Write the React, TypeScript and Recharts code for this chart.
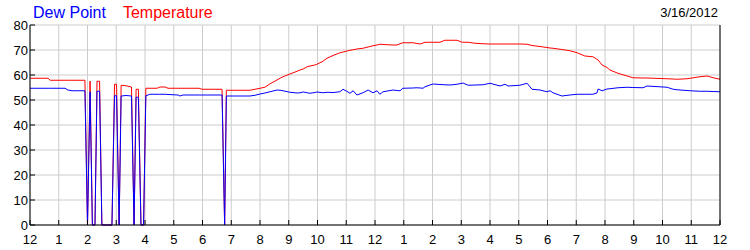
import { LineChart, Line, XAxis, YAxis, CartesianGrid, Legend } from 'recharts';

// hours since midnight
const hours = [
  0, 0.63, 0.7, 1.22, 1.32, 1.46, 1.91, 2.0, 2.09, 2.17, 2.26, 2.33, 2.42, 2.5, 2.85, 2.94,
  3.01, 3.1, 3.17, 3.34, 3.53, 3.62, 3.69, 3.77, 3.86, 3.95, 4.03, 4.17, 4.42, 4.52, 4.7, 4.8,
  5.15, 5.22, 5.32, 5.88, 5.98, 6.68, 6.77, 6.83, 7.65, 7.83, 8.0, 8.17, 8.35, 8.59, 8.7, 8.8,
  9.04, 9.29, 9.39, 9.5, 9.64, 9.74, 9.91, 9.98, 10.19, 10.33, 10.54, 10.78, 10.89, 11.03, 11.13, 11.24,
  11.37, 11.58, 11.76, 11.93, 12.07, 12.17, 12.28, 12.63, 12.77, 12.87, 12.97, 13.32, 13.46, 13.57, 13.67, 13.74,
  13.91, 14.02, 14.26, 14.43, 14.61, 14.85, 15.03, 15.06, 15.24, 15.48, 15.76, 16.0, 16.35, 16.52, 16.63, 17.04,
  17.29, 17.46, 17.74, 17.98, 18.09, 18.19, 18.5, 18.78, 19.03, 19.3, 19.58, 19.72, 19.76, 19.9, 20.07, 20.17,
  20.45, 20.77, 20.97, 21.32, 21.46, 22.16, 22.37, 22.5, 22.85, 22.96, 23.3, 23.55, 23.76, 24.0,
];

const temperature = [
  58.7, 58.7, 57.9, 57.9, 57.9, 57.9, 57.9, 0, 57.6, 0, 0, 57.5, 57.5, 0, 0, 56.3,
  56.3, 0, 55.9, 55.7, 55.2, 0, 54.3, 54.3, 0, 0, 54.7, 54.7, 54.7, 55.2, 55.2, 54.7,
  54.7, 54.7, 54.7, 54.7, 54.3, 54.3, 0, 53.9, 53.9, 54.3, 54.7, 55.1, 56.5, 58.0, 58.7, 59.3,
  60.4, 61.5, 62.0, 62.4, 63.3, 63.6, 64.0, 64.3, 65.5, 66.7, 67.8, 68.9, 69.2, 69.6, 69.9, 70.1,
  70.4, 70.7, 71.2, 71.7, 72.0, 72.3, 72.2, 72.0, 72.0, 72.5, 72.9, 72.9, 72.6, 72.4, 72.8, 73.1,
  73.1, 73.1, 73.1, 73.9, 73.9, 73.9, 73.1, 73.1, 73.1, 72.7, 72.5, 72.4, 72.4, 72.4, 72.4, 72.4,
  72.3, 71.8, 71.4, 71.0, 70.8, 70.7, 70.2, 69.7, 68.9, 67.6, 67.3, 66.3, 66.0, 64.0, 63.0, 62.0,
  60.7, 59.6, 58.9, 58.8, 58.8, 58.5, 58.4, 58.3, 58.5, 58.7, 59.3, 59.6, 58.9, 58.3,
];

const dewPoint = [
  54.7, 54.7, 54.7, 54.7, 54.0, 53.7, 53.7, 0, 53.3, 0, 0, 53.5, 53.5, 0, 0, 51.7,
  51.7, 0, 51.6, 51.8, 51.6, 0, 51.1, 51.1, 0, 0, 51.7, 52.3, 52.3, 52.3, 52.3, 52.2,
  52.0, 51.6, 52.0, 52.0, 52.0, 52.0, 0, 51.6, 51.6, 51.9, 52.4, 52.8, 53.3, 54.0, 53.9, 53.7,
  53.1, 52.8, 52.9, 53.2, 52.9, 52.7, 53.0, 53.2, 52.9, 53.1, 53.0, 53.3, 54.3, 53.4, 52.7, 53.7,
  52.0, 52.9, 54.0, 52.9, 53.7, 52.3, 53.3, 54.0, 53.8, 53.7, 54.7, 54.8, 54.9, 54.8, 54.7, 55.3,
  56.0, 56.4, 56.2, 56.1, 56.0, 56.3, 56.7, 56.8, 55.9, 56.0, 56.1, 56.7, 55.6, 56.3, 55.6, 55.9,
  56.7, 54.3, 54.0, 53.3, 53.7, 52.9, 51.6, 52.0, 52.3, 52.3, 52.3, 52.8, 54.4, 53.7, 54.4, 54.5,
  54.9, 55.1, 55.0, 54.9, 55.6, 55.1, 54.3, 54.1, 53.8, 53.7, 53.5, 53.5, 53.4, 53.3,
];

const hourTicks = [0, 1, 2, 3, 4, 5, 6, 7, 8, 9, 10, 11, 12, 13, 14, 15, 16, 17, 18, 19, 20, 21, 22, 23, 24];
const valueTicks = [0, 10, 20, 30, 40, 50, 60, 70, 80];

const data = hours.map((h, i) => ({ h, temperature: temperature[i], dewPoint: dewPoint[i] }));

const font = '"Liberation Sans", Arial, sans-serif';
const hourLabel = (h: number) => String(h % 12 || 12);

const BottomTick = (props: any) => {
  const { x, y, payload } = props;
  return (
    <g>
      <line x1={x} y1={y} x2={x} y2={y - 5} stroke="#000" />
      <text x={x} y={y + 19} textAnchor="middle" fontSize={13} fontFamily={font} fill="#000">
        {hourLabel(payload.value)}
      </text>
    </g>
  );
};

const TopTick = (props: any) => {
  const { x, y } = props;
  return <line x1={x} y1={y} x2={x} y2={y + 5} stroke="#000" />;
};

const LeftTick = (props: any) => {
  const { x, y, payload } = props;
  return (
    <g>
      <line x1={x} y1={y} x2={x + 5} y2={y} stroke="#000" />
      <text x={x - 2} y={y + 5} textAnchor="end" fontSize={13} fontFamily={font} fill="#000">
        {payload.value}
      </text>
    </g>
  );
};

const RightTick = (props: any) => {
  const { x, y, payload } = props;
  return (
    <g>
      <line x1={x} y1={y} x2={x - 5} y2={y} stroke="#000" />
      <text x={x + 7} y={y + 5} textAnchor="start" fontSize={13} fontFamily={font} fill="#000">
        {payload.value}
      </text>
    </g>
  );
};

const LegendContent = () => (
  <div style={{ fontFamily: font, fontSize: 16, lineHeight: '18px', whiteSpace: 'nowrap' }}>
    <span style={{ color: '#0000ff' }}>Dew Point</span>
    <span style={{ color: '#ff0000', marginLeft: 17 }}>Temperature</span>
  </div>
);

export default function App() {
  return (
    <div style={{ position: 'absolute', left: 0, top: 0, background: '#fff' }}>
      <LineChart width={750} height={250} data={data} margin={{ top: 25, right: 0, left: 0, bottom: 0 }}>
        <CartesianGrid stroke="#cccccc" />
        <XAxis
          dataKey="h"
          type="number"
          domain={[0, 24]}
          ticks={hourTicks}
          height={25}
          tickSize={0}
          tickMargin={0}
          tickLine={false}
          axisLine={{ stroke: '#000' }}
          tick={BottomTick}
          interval={0}
        />
        <XAxis
          xAxisId="top"
          orientation="top"
          dataKey="h"
          type="number"
          domain={[0, 24]}
          ticks={hourTicks}
          height={0}
          tickSize={0}
          tickMargin={0}
          tickLine={false}
          axisLine={{ stroke: '#000' }}
          tick={TopTick}
          interval={0}
        />
        <YAxis
          domain={[0, 80]}
          ticks={valueTicks}
          width={30}
          tickSize={0}
          tickMargin={0}
          tickLine={false}
          axisLine={{ stroke: '#000' }}
          tick={LeftTick}
          interval={0}
        />
        <YAxis
          yAxisId="right"
          orientation="right"
          domain={[0, 80]}
          ticks={valueTicks}
          width={30}
          tickSize={0}
          tickMargin={0}
          tickLine={false}
          axisLine={{ stroke: '#000' }}
          tick={RightTick}
          interval={0}
        />
        <Legend
          layout="horizontal"
          verticalAlign="middle"
          align="center"
          content={LegendContent}
          wrapperStyle={{ top: 4, left: 33, width: 'auto' }}
        />
        <Line
          type="linear"
          dataKey="temperature"
          name="Temperature"
          stroke="#ff0000"
          strokeWidth={1}
          dot={false}
          isAnimationActive={false}
        />
        <Line
          type="linear"
          dataKey="dewPoint"
          name="Dew Point"
          stroke="#0000ff"
          strokeWidth={1}
          dot={false}
          isAnimationActive={false}
        />
        <text x={718} y={17} textAnchor="end" fontSize={13} fontFamily={font} fill="#000">
          3/16/2012
        </text>
      </LineChart>
    </div>
  );
}
